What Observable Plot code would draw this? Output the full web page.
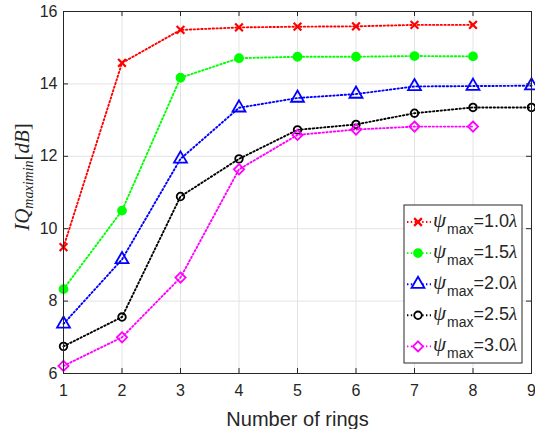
<!DOCTYPE html>
<html>
<head>
<meta charset="utf-8">
<script src="https://cdn.jsdelivr.net/npm/d3@7"></script>
<script src="https://cdn.jsdelivr.net/npm/@observablehq/plot@0.6"></script>
<style>
  html, body { margin: 0; padding: 0; background: #fff; }
  #chart { position: relative; width: 535px; height: 429px; }
</style>
</head>
<body>
<div id="chart"></div>
<script>
const rings = [1, 2, 3, 4, 5, 6, 7, 8, 9];
const psi10 = [9.49, 14.58, 15.49, 15.56, 15.58, 15.59, 15.63, 15.63];
const psi15 = [8.33, 10.50, 14.17, 14.71, 14.75, 14.75, 14.77, 14.76];
const psi20 = [7.37, 9.15, 11.93, 13.34, 13.61, 13.72, 13.93, 13.94, 13.95];
const psi25 = [6.75, 7.56, 10.89, 11.93, 12.73, 12.88, 13.19, 13.35, 13.35];
const psi30 = [6.21, 7.00, 8.65, 11.64, 12.59, 12.74, 12.82, 12.82];
const seriesNames = ["1.0", "1.5", "2.0", "2.5", "3.0"];
const seriesValues = [psi10, psi15, psi20, psi25, psi30];
const seriesColors = ["#ff0000", "#00ff00", "#0000ff", "#000000", "#ff00ff"];
const seriesSymbols = ["times", "circle", "triangle", "circle", "diamond2"];
const seriesFilled = [false, true, false, false, false];
const seriesR = [3.6, 4, 4.8, 3.8, 4.6];
const xTicks = [1, 2, 3, 4, 5, 6, 7, 8, 9];
const yTicks = [6, 8, 10, 12, 14, 16];

const rows = [];
seriesValues.forEach((vals, s) => vals.forEach((v, i) => rows.push({s, name: seriesNames[s], x: rings[i], y: v})));

const W = 535, H = 429, mL = 63, mR = 4, mT = 11, mB = 56;
const pw = W - mL - mR, ph = H - mT - mB;
const font = "'Liberation Sans', Arial, Helvetica, sans-serif";
const serif = "'Liberation Serif', 'Times New Roman', serif";
const axisColor = "#262626";
const dash = "1.4,2.4";

const marks = [
  Plot.gridX(xTicks, {stroke: "#e3e3e3", strokeOpacity: 1}),
  Plot.gridY(yTicks, {stroke: "#e3e3e3", strokeOpacity: 1}),
];
seriesValues.forEach((vals, s) => {
  const d = rows.filter(r => r.s === s);
  marks.push(Plot.line(d, {x: "x", y: "y", stroke: seriesColors[s], strokeWidth: 1.9, strokeDasharray: dash}));
  marks.push(Plot.dot(d, {
    x: "x", y: "y", symbol: () => seriesSymbols[s], r: seriesR[s],
    stroke: seriesColors[s], fill: seriesFilled[s] ? seriesColors[s] : "none",
    strokeWidth: seriesSymbols[s] === "times" ? 2.2 : 1.8
  }));
});
marks.push(
  Plot.tickX(xTicks, {x: d => d, stroke: axisColor, insetTop: ph - 5}),
  Plot.tickX(xTicks, {x: d => d, stroke: axisColor, insetBottom: ph - 5}),
  Plot.tickY(yTicks, {y: d => d, stroke: axisColor, insetRight: pw - 5}),
  Plot.tickY(yTicks, {y: d => d, stroke: axisColor, insetLeft: pw - 5}),
  Plot.frame({stroke: axisColor, strokeWidth: 1}),
  Plot.axisX(xTicks, {tickSize: 0, tickPadding: 11, fontSize: 16, fill: axisColor, label: null}),
  Plot.axisY(yTicks, {tickSize: 0, tickPadding: 6, fontSize: 16, fill: axisColor, label: null}),
  Plot.text(["Number of rings"], {frameAnchor: "bottom", dy: 52, fontSize: 20, fill: axisColor, text: d => d})
);

const chart = Plot.plot({
  width: W, height: H,
  marginLeft: mL, marginRight: mR, marginTop: mT, marginBottom: mB,
  style: {fontFamily: font, background: "#fff", overflow: "visible"},
  x: {domain: [1, 9], ticks: xTicks},
  y: {domain: [6, 16], ticks: yTicks},
  marks
});
document.getElementById("chart").appendChild(chart);

const svg = d3.select(chart);
// y label
const yl = svg.append("text")
  .attr("transform", "translate(29,177) rotate(-90)")
  .attr("text-anchor", "middle")
  .attr("fill", axisColor)
  .style("font-family", serif)
  .style("font-size", "21px");
yl.append("tspan").attr("font-style", "italic").text("IQ");
yl.append("tspan").attr("font-style", "italic").attr("font-size", "14px").attr("dy", 4).text("maximin");
yl.append("tspan").attr("dy", -4).text("[");
yl.append("tspan").attr("font-style", "italic").text("dB");
yl.append("tspan").text("]");

// legend
const lg = svg.append("g").attr("text-anchor", "start");
const lx = 404, ly = 205, lw = 118, lh = 158;
lg.append("rect").attr("x", lx).attr("y", ly).attr("width", lw).attr("height", lh)
  .attr("fill", "#fff").attr("stroke", axisColor).attr("stroke-width", 1);
const symMap = {times: d3.symbolTimes, circle: d3.symbolCircle, triangle: d3.symbolTriangle, diamond2: d3.symbolDiamond2};
seriesNames.forEach((name, s) => {
  const cy = 222 + s * 31.1;
  lg.append("line").attr("x1", 407).attr("x2", 431).attr("y1", cy).attr("y2", cy)
    .attr("stroke", seriesColors[s]).attr("stroke-width", 1.9).attr("stroke-dasharray", dash);
  const r = seriesR[s];
  lg.append("path").attr("transform", `translate(418,${cy})`)
    .attr("d", d3.symbol(symMap[seriesSymbols[s]], Math.PI * r * r)())
    .attr("stroke", seriesColors[s]).attr("fill", seriesFilled[s] ? seriesColors[s] : "#fff")
    .attr("stroke-width", seriesSymbols[s] === "times" ? 2.2 : 1.8);
  const t = lg.append("text").attr("x", 433).attr("y", cy + 5).attr("fill", axisColor).attr("text-anchor", "start");
  t.append("tspan").style("font-family", serif).attr("font-style", "italic").attr("font-size", 21).text("ψ");
  t.append("tspan").style("font-family", font).attr("font-size", 14).attr("dy", 7).attr("dx", 1).text("max");
  t.append("tspan").style("font-family", font).attr("font-size", 18).attr("dy", -7).text("=" + name);
  t.append("tspan").style("font-family", serif).attr("font-style", "italic").attr("font-size", 19).text("λ");
});
</script>
</body>
</html>
